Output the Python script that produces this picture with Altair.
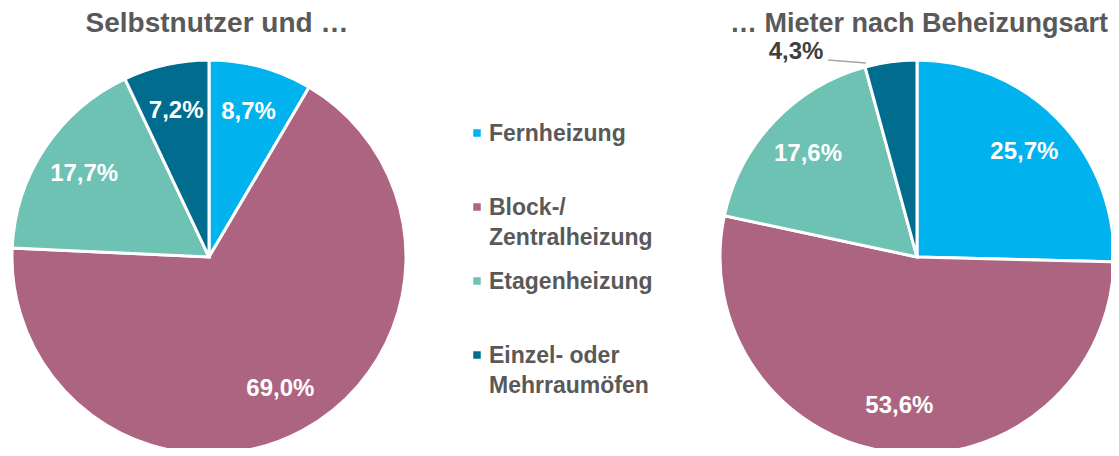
import math
import altair as alt
import pandas as pd

kategorien = ["Fernheizung", "Block-/Zentralheizung", "Etagenheizung", "Einzel- oder Mehrraumöfen"]
legenden_text = ["Fernheizung", "Block-/\nZentralheizung", "Etagenheizung", "Einzel- oder\nMehrraumöfen"]
farben = ["#00B2EE", "#AD6480", "#6DC2B4", "#006D8F"]
gruppen = ["Selbstnutzer", "Mieter"]
titel = ["Selbstnutzer und …", "… Mieter nach Beheizungsart"]
selbstnutzer = [8.7, 69.0, 17.7, 7.2]
mieter = [25.7, 53.6, 17.6, 4.3]

rows = []
for g, werte in zip(gruppen, [selbstnutzer, mieter]):
    for i, (k, w) in enumerate(zip(kategorien, werte)):
        rows.append({"gruppe": g, "kategorie": k, "wert": w, "ordnung": i})
df = pd.DataFrame(rows)

FONT = "Liberation Sans"
CY = 249

x_enc = alt.X("gruppe:N",
              scale=alt.Scale(type="point", domain=gruppen, range=[201, 909], padding=0),
              axis=None)
theta_scale = alt.Scale(type="linear", domain=[0, 1], range=[0, 2 * math.pi])
color = alt.Color("kategorie:N", scale=alt.Scale(domain=kategorien, range=farben), legend=None)

base = (
    alt.Chart(df)
    .transform_joinaggregate(total="sum(wert)", groupby=["gruppe"])
    .transform_window(cum="sum(wert)", sort=[alt.SortField("ordnung")], groupby=["gruppe"], frame=[None, 0])
    .transform_calculate(
        f1="datum.cum / datum.total",
        f0="(datum.cum - datum.wert) / datum.total",
        fm="(2 * datum.cum - datum.wert) / (2 * datum.total)",
        label="replace(format(datum.wert, '.1f'), '.', ',') + '%'",
    )
)

arcs = base.mark_arc(outerRadius=197, stroke="white", strokeWidth=3).encode(
    x=x_enc,
    y=alt.value(CY),
    theta=alt.Theta("f0:Q", scale=theta_scale, stack=None),
    theta2="f1:Q",
    color=color,
)

inner = base.transform_filter("datum.wert >= 5").mark_text(
    radius=150, fontSize=24, fontWeight="bold", color="white", font=FONT
).encode(
    x=x_enc,
    y=alt.value(CY),
    theta=alt.Theta("fm:Q", scale=theta_scale, stack=None),
    text="label:N",
)

outer = base.transform_filter("datum.wert < 5").mark_text(
    radius=215, dx=-65, dy=8, align="right", fontSize=24, fontWeight="bold", color="#404040", font=FONT
).encode(
    x=x_enc,
    y=alt.value(CY),
    theta=alt.Theta("fm:Q", scale=theta_scale, stack=None),
    text="label:N",
)

leader = alt.Chart(pd.DataFrame({"a": [0]})).mark_rule(color="#A6A6A6", strokeWidth=1.5).encode(
    x=alt.value(820), x2=alt.value(858), y=alt.value(52), y2=alt.value(55)
)

titel_df = pd.DataFrame({"gruppe": gruppen, "titel": titel})
title_left = alt.Chart(titel_df).transform_filter(alt.datum.gruppe == gruppen[0]).mark_text(
    fontSize=28, fontWeight="bold", color="#595959", baseline="alphabetic", font=FONT, dx=8
).encode(x=x_enc, y=alt.value(24), text="titel:N")
title_right = alt.Chart(titel_df).transform_filter(alt.datum.gruppe == gruppen[1]).mark_text(
    fontSize=27, fontWeight="bold", color="#595959", baseline="alphabetic", font=FONT,
    align="right", dx=191
).encode(x=x_enc, y=alt.value(24), text="titel:N")

leg_df = pd.DataFrame({"kategorie": kategorien, "text": legenden_text})
y_leg = alt.Y("kategorie:N",
              scale=alt.Scale(type="point", domain=kategorien, range=[125, 347], padding=0),
              axis=None)
leg_sq = alt.Chart(leg_df).mark_square(size=56, opacity=1).encode(
    x=alt.value(469), y=y_leg, color=color
)
leg_txt = alt.Chart(leg_df).mark_text(
    align="left", baseline="top", dy=-10, fontSize=23, lineHeight=30, lineBreak="\n",
    fontWeight="bold", color="#595959", font=FONT
).encode(x=alt.value(481), y=y_leg, text="text:N")

chart = (
    alt.layer(arcs, inner, outer, leader, title_left, title_right, leg_sq, leg_txt)
    .properties(width=1103, height=440, autosize=alt.AutoSizeParams(type="none"), padding=0)
    .configure_view(stroke=None)
)

chart.save("out.html", embed_options={"renderer": "svg", "actions": False})
